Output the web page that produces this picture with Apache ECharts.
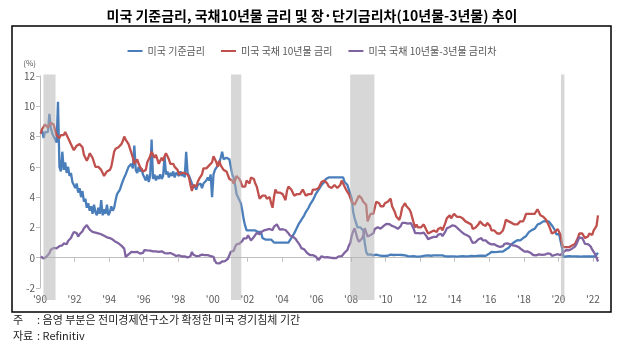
<!DOCTYPE html>
<html>
<head>
<meta charset="utf-8">
<script src="https://cdn.jsdelivr.net/npm/echarts@6/dist/echarts.min.js"></script>
<style>
  html, body { margin: 0; padding: 0; background: #fff; }
  #chart { width: 624px; height: 349px; }
</style>
</head>
<body>
<div id="chart"></div>
<script>
// Monthly series, January 1990 to April 2022 (%)
const START_YEAR = 1990;

// US policy rate (effective fed funds)
const fedFundsRate = [
  8.2, 8.4, 7.9, 8.3, 8.2, 8.3, 9.5, 8.6, 8.2, 8.0, 7.8, 7.6,        // 1990
  10.3, 6.0, 5.7, 7.0, 5.8, 6.3, 5.6, 6.0, 5.4, 5.6, 5.0, 4.8,       // 1991
  4.6, 4.9, 4.3, 4.6, 4.0, 4.4, 3.7, 3.9, 3.3, 3.6, 3.1, 3.4,        // 1992
  2.9, 3.5, 3.0, 2.8, 3.3, 2.9, 3.8, 2.8, 3.2, 2.9, 3.5, 2.8,        // 1993
  3.0, 3.4, 3.1, 3.3, 3.8, 4.2, 4.1, 4.5, 4.8, 4.7, 5.3, 5.5,        // 1994
  5.6, 6.0, 5.9, 6.2, 5.9, 7.4, 5.8, 5.6, 6.0, 5.7, 5.9, 5.5,        // 1995
  5.6, 5.1, 5.5, 5.0, 5.4, 7.8, 5.2, 5.5, 5.1, 5.4, 5.2, 5.5,        // 1996
  5.2, 5.4, 6.7, 5.5, 5.7, 5.3, 5.6, 5.4, 5.7, 5.3, 5.6, 5.5,        // 1997
  5.4, 5.7, 5.4, 5.6, 5.3, 7.0, 5.6, 5.4, 5.5, 4.9, 4.6, 4.8,        // 1998
  4.5, 4.8, 4.7, 4.9, 4.6, 4.9, 5.0, 5.1, 5.3, 5.1, 5.5, 4.0,        // 1999
  5.5, 5.8, 5.9, 6.1, 6.3, 6.6, 7.0, 6.5, 6.5, 6.6, 6.5, 6.5,        // 2000
  6.0, 5.5, 5.3, 4.8, 4.2, 4.0, 3.8, 3.6, 3.1, 2.5, 2.1, 1.8,        // 2001
  1.7, 1.8, 1.7, 1.8, 1.7, 1.8, 1.7, 1.7, 1.8, 1.7, 1.3, 1.2,        // 2002
  1.2, 1.3, 1.2, 1.3, 1.2, 1.2, 1.0, 1.0, 1.0, 1.0, 1.0, 1.0,        // 2003
  1.0, 1.0, 1.0, 1.0, 1.0, 1.0, 1.3, 1.4, 1.6, 1.8, 1.9, 2.2,        // 2004
  2.3, 2.5, 2.6, 2.8, 3.0, 3.0, 3.3, 3.5, 3.6, 3.8, 4.0, 4.2,        // 2005
  4.3, 4.5, 4.6, 4.8, 4.9, 5.0, 5.2, 5.3, 5.3, 5.3, 5.3, 5.2,        // 2006
  5.3, 5.3, 5.3, 5.3, 5.3, 5.3, 5.3, 5.0, 4.9, 4.8, 4.5, 4.2,        // 2007
  3.9, 3.0, 2.6, 2.3, 2.0, 2.0, 2.0, 2.0, 1.8, 1.0, 0.4, 0.2,        // 2008
  0.15, 0.22, 0.18, 0.15, 0.18, 0.21, 0.16, 0.16, 0.15, 0.12, 0.12, 0.12, // 2009
  0.11, 0.13, 0.16, 0.20, 0.20, 0.18, 0.18, 0.19, 0.19, 0.19, 0.19, 0.18, // 2010
  0.17, 0.16, 0.14, 0.10, 0.09, 0.09, 0.07, 0.10, 0.08, 0.07, 0.08, 0.07, // 2011
  0.08, 0.10, 0.13, 0.14, 0.16, 0.16, 0.16, 0.13, 0.14, 0.16, 0.16, 0.16, // 2012
  0.14, 0.15, 0.14, 0.15, 0.11, 0.09, 0.09, 0.08, 0.08, 0.09, 0.08, 0.09, // 2013
  0.07, 0.07, 0.08, 0.09, 0.09, 0.10, 0.09, 0.09, 0.09, 0.09, 0.09, 0.12, // 2014
  0.11, 0.11, 0.11, 0.12, 0.12, 0.13, 0.13, 0.14, 0.14, 0.12, 0.12, 0.24, // 2015
  0.34, 0.38, 0.36, 0.37, 0.37, 0.38, 0.39, 0.40, 0.40, 0.40, 0.41, 0.54, // 2016
  0.65, 0.66, 0.79, 0.90, 0.91, 1.04, 1.15, 1.16, 1.15, 1.15, 1.16, 1.30, // 2017
  1.41, 1.42, 1.51, 1.69, 1.70, 1.82, 1.91, 1.91, 1.95, 2.19, 2.20, 2.27, // 2018
  2.40, 2.40, 2.41, 2.42, 2.39, 2.38, 2.40, 2.13, 2.04, 1.83, 1.55, 1.55, // 2019
  1.55, 1.58, 0.65, 0.05, 0.05, 0.08, 0.09, 0.10, 0.09, 0.09, 0.09, 0.09, // 2020
  0.09, 0.08, 0.07, 0.07, 0.06, 0.08, 0.10, 0.09, 0.08, 0.08, 0.08, 0.08, // 2021
  0.08, 0.08, 0.20, 0.33                                                  // 2022
];

// US 10-year Treasury yield
const treasury10y = [
  8.2, 8.5, 8.6, 8.8, 8.9, 8.6, 8.5, 8.9, 9.0, 8.8, 8.4, 8.1,        // 1990
  8.1, 7.9, 8.1, 8.0, 8.1, 8.3, 8.3, 7.9, 7.7, 7.5, 7.4, 7.1,        // 1991
  7.1, 7.4, 7.5, 7.5, 7.4, 7.3, 6.8, 6.6, 6.4, 6.6, 6.9, 6.8,        // 1992
  6.6, 6.3, 6.0, 6.0, 6.0, 5.9, 5.8, 5.7, 5.4, 5.3, 5.7, 5.8,        // 1993
  5.8, 6.0, 6.5, 7.0, 7.2, 7.1, 7.3, 7.2, 7.5, 7.7, 8.0, 7.8,        // 1994
  7.8, 7.5, 7.2, 7.1, 6.6, 6.2, 6.3, 6.5, 6.2, 6.0, 5.9, 5.7,        // 1995
  5.6, 5.8, 6.3, 6.5, 6.7, 7.0, 6.9, 6.6, 6.8, 6.5, 6.2, 6.3,        // 1996
  6.6, 6.4, 6.7, 6.9, 6.7, 6.5, 6.2, 6.3, 6.2, 6.0, 5.9, 5.8,        // 1997
  5.5, 5.6, 5.6, 5.6, 5.6, 5.5, 5.5, 5.3, 4.8, 4.4, 4.8, 4.7,        // 1998
  4.7, 5.0, 5.2, 5.2, 5.5, 5.9, 5.8, 5.9, 5.9, 6.1, 6.0, 6.3,        // 1999
  6.7, 6.5, 6.3, 6.0, 6.4, 6.1, 6.0, 5.8, 5.8, 5.7, 5.7, 5.2,        // 2000
  5.2, 5.1, 4.9, 5.1, 5.4, 5.3, 5.2, 5.0, 4.7, 4.6, 4.7, 5.1,        // 2001
  5.0, 4.9, 5.3, 5.2, 5.2, 4.9, 4.7, 4.3, 3.9, 3.9, 4.1, 4.0,        // 2002
  4.1, 3.9, 3.8, 4.0, 3.6, 3.3, 4.0, 4.5, 4.3, 4.3, 4.3, 4.3,        // 2003
  4.2, 4.1, 3.8, 4.4, 4.7, 4.7, 4.5, 4.3, 4.1, 4.1, 4.2, 4.2,        // 2004
  4.2, 4.2, 4.5, 4.3, 4.1, 4.0, 4.2, 4.3, 4.2, 4.5, 4.5, 4.5,        // 2005
  4.4, 4.6, 4.7, 5.0, 5.1, 5.1, 5.1, 4.9, 4.7, 4.7, 4.6, 4.6,        // 2006
  4.8, 4.7, 4.6, 4.7, 4.8, 5.1, 5.0, 4.7, 4.5, 4.5, 4.2, 4.1,        // 2007
  3.7, 3.7, 3.5, 3.7, 3.9, 4.1, 4.0, 3.9, 3.7, 3.8, 3.5, 2.4,        // 2008
  2.5, 2.9, 2.8, 2.9, 3.3, 3.7, 3.6, 3.6, 3.4, 3.4, 3.4, 3.6,        // 2009
  3.7, 3.7, 3.7, 3.9, 3.4, 3.2, 3.0, 2.7, 2.7, 2.5, 2.8, 3.3,        // 2010
  3.4, 3.6, 3.4, 3.5, 3.2, 3.0, 3.0, 2.3, 2.0, 2.2, 2.0, 2.0,        // 2011
  2.0, 2.0, 2.2, 2.1, 1.8, 1.6, 1.5, 1.7, 1.7, 1.8, 1.7, 1.7,        // 2012
  1.9, 2.0, 2.0, 1.8, 1.9, 2.3, 2.6, 2.7, 2.8, 2.6, 2.7, 2.9,        // 2013
  2.9, 2.7, 2.7, 2.7, 2.6, 2.6, 2.5, 2.4, 2.5, 2.3, 2.3, 2.2,        // 2014
  1.9, 2.0, 2.0, 1.9, 2.2, 2.4, 2.3, 2.2, 2.2, 2.1, 2.3, 2.2,        // 2015
  2.1, 1.8, 1.9, 1.8, 1.8, 1.6, 1.5, 1.6, 1.6, 1.8, 2.1, 2.5,        // 2016
  2.4, 2.4, 2.5, 2.3, 2.3, 2.2, 2.3, 2.2, 2.2, 2.4, 2.4, 2.4,        // 2017
  2.6, 2.9, 2.8, 2.9, 3.0, 2.9, 2.9, 2.9, 3.0, 3.2, 3.1, 2.8,        // 2018
  2.7, 2.7, 2.6, 2.5, 2.4, 2.1, 2.1, 1.6, 1.7, 1.7, 1.8, 1.9,        // 2019
  1.8, 1.5, 0.9, 0.7, 0.7, 0.7, 0.6, 0.7, 0.7, 0.8, 0.9, 0.9,        // 2020
  1.1, 1.3, 1.6, 1.6, 1.6, 1.5, 1.3, 1.3, 1.4, 1.6, 1.6, 1.5,        // 2021
  1.8, 1.9, 2.1, 2.8                                                  // 2022
];

// 10-year minus 3-year Treasury yield spread
const spread10y3y = [
  0.08, -0.05, -0.05, 0.01, 0.07, 0.15, 0.30, 0.53, 0.62, 0.65, 0.65, 0.61, // 1990
  0.71, 0.77, 0.76, 0.81, 0.95, 0.89, 0.89, 1.10, 1.15, 1.30, 1.52, 1.70,   // 1991
  1.63, 1.62, 1.40, 1.55, 1.65, 1.75, 1.95, 1.95, 2.15, 2.05, 1.85, 1.75,   // 1992
  1.70, 1.75, 1.65, 1.70, 1.60, 1.65, 1.55, 1.55, 1.45, 1.40, 1.35, 1.30,   // 1993
  1.30, 1.25, 1.20, 1.15, 1.05, 1.00, 0.95, 0.90, 0.80, 0.70, 0.60, 0.05,   // 1994
  0.12, 0.22, 0.31, 0.38, 0.36, 0.37, 0.39, 0.39, 0.31, 0.27, 0.36, 0.32,   // 1995
  0.50, 0.60, 0.48, 0.45, 0.47, 0.42, 0.42, 0.43, 0.42, 0.45, 0.38, 0.39,   // 1996
  0.42, 0.39, 0.31, 0.28, 0.29, 0.25, 0.31, 0.25, 0.23, 0.19, 0.12, 0.07,   // 1997
  0.16, 0.14, 0.08, 0.06, 0.09, 0.04, 0.01, 0.00, 0.10, 0.38, 0.20, 0.09,   // 1998
  0.11, 0.10, 0.12, 0.15, 0.21, 0.20, 0.17, 0.17, 0.17, 0.17, 0.11, 0.14,   // 1999
  0.05, -0.20, -0.35, -0.40, -0.38, -0.33, -0.25, -0.34, -0.22, -0.11, -0.07, -0.02, // 2000
  0.39, 0.39, 0.46, 0.72, 0.88, 0.93, 0.93, 0.93, 1.11, 1.28, 1.31, 1.28,   // 2001
  1.48, 1.36, 1.14, 1.20, 1.36, 1.44, 1.64, 1.74, 1.55, 1.69, 1.73, 1.80,   // 2002
  1.87, 1.85, 1.83, 1.90, 1.82, 1.82, 2.05, 2.15, 2.20, 2.03, 1.85, 1.83,   // 2003
  1.88, 1.83, 1.83, 1.78, 1.62, 1.47, 1.45, 1.40, 1.30, 1.25, 1.10, 1.02,   // 2004
  0.83, 0.63, 0.59, 0.55, 0.42, 0.31, 0.27, 0.18, 0.24, 0.17, 0.11, 0.08,   // 2005
  0.07, -0.15, -0.02, 0.10, 0.14, 0.02, 0.02, 0.03, 0.03, 0.01, -0.04, -0.02, // 2006
  -0.03, -0.03, 0.05, 0.09, 0.06, 0.10, 0.18, 0.33, 0.46, 0.52, 0.80, 0.97, // 2007
  1.45, 1.75, 1.95, 1.60, 1.25, 1.05, 1.15, 1.25, 1.45, 1.95, 2.00, 1.40,   // 2008
  1.39, 1.50, 1.51, 1.61, 1.90, 1.96, 2.01, 1.94, 1.92, 1.93, 2.08, 2.21,   // 2009
  2.24, 2.29, 2.22, 2.21, 2.10, 2.03, 2.03, 1.92, 1.91, 1.97, 2.09, 2.30,   // 2010
  2.36, 2.30, 2.24, 2.25, 2.23, 2.29, 2.32, 1.92, 1.63, 1.68, 1.62, 1.59,   // 2011
  1.61, 1.59, 1.66, 1.62, 1.41, 1.23, 1.20, 1.31, 1.38, 1.38, 1.29, 1.37,   // 2012
  1.52, 1.58, 1.57, 1.42, 1.53, 1.72, 1.94, 1.95, 2.03, 1.99, 2.14, 2.21,   // 2013
  2.08, 2.02, 1.90, 1.83, 1.73, 1.70, 1.57, 1.49, 1.48, 1.42, 1.37, 1.15,   // 2014
  0.98, 0.99, 1.02, 1.07, 1.22, 1.29, 1.29, 1.14, 1.16, 1.14, 1.06, 0.96,   // 2015
  0.95, 0.88, 0.85, 0.89, 0.84, 0.78, 0.71, 0.71, 0.73, 0.77, 0.92, 1.00,   // 2016
  0.95, 0.95, 0.89, 0.86, 0.82, 0.70, 0.78, 0.73, 0.69, 0.68, 0.54, 0.44,   // 2017
  0.40, 0.43, 0.42, 0.30, 0.33, 0.21, 0.18, 0.18, 0.16, 0.21, 0.22, 0.17,   // 2018
  0.19, 0.20, 0.20, 0.22, 0.28, 0.29, 0.26, 0.12, 0.13, 0.18, 0.20, 0.23,   // 2019
  0.24, 0.17, 0.30, 0.37, 0.45, 0.51, 0.45, 0.49, 0.52, 0.60, 0.65, 0.73,   // 2020
  0.89, 1.01, 1.35, 1.40, 1.30, 1.12, 0.91, 0.86, 0.90, 0.92, 0.73, 0.53,   // 2021
  0.41, 0.24, 0.00, -0.25                                                    // 2022
];

// NBER recession periods (shaded), in fractional years
const recessions = [
  [1990.2, 1990.9],
  [2001.05, 2001.65],
  [2007.95, 2009.35],
  [2020.15, 2020.35]
];

const xTickYears = [1990, 1992, 1994, 1996, 1998, 2000, 2002, 2004, 2006,
                    2008, 2010, 2012, 2014, 2016, 2018, 2020, 2022];

const seriesNames = ['미국 기준금리', '미국 국채 10년물 금리', '미국 국채 10년물-3년물 금리차'];
const seriesColors = ['#4a7ebb', '#c0504d', '#8064a2'];

const toPairs = arr => arr.map((v, i) => [START_YEAR + (i + 0.5) / 12, v]);

const FONT = '"Noto Sans CJK KR", "Noto Sans", sans-serif';
const SHADE_TOP = 12.1;
const SHADE_BOTTOM = -2.8;

const chart = echarts.init(document.getElementById('chart'), null, { renderer: 'canvas' });

const lineSeries = [fedFundsRate, treasury10y, spread10y3y].map((arr, k) => ({
  name: seriesNames[k],
  type: 'line',
  data: toPairs(arr),
  showSymbol: false,
  symbol: 'none',
  lineStyle: { width: 2.3, color: seriesColors[k] },
  itemStyle: { color: seriesColors[k] },
  z: 2 + k,
  animation: false
}));

chart.setOption({
  animation: false,
  backgroundColor: '#fff',
  textStyle: { fontFamily: FONT },
  title: {
    text: '미국 기준금리, 국채10년물 금리 및 장·단기금리차(10년물-3년물) 추이',
    left: 'center',
    top: 4,
    textStyle: { fontSize: 14, fontWeight: 'bold', color: '#000', fontFamily: FONT }
  },
  legend: {
    data: seriesNames,
    top: 41,
    left: 'center',
    icon: 'rect',
    itemWidth: 15,
    itemHeight: 2,
    itemGap: 16,
    textStyle: { fontSize: 10, color: '#595959', fontFamily: FONT }
  },
  grid: { left: 40, right: 25, top: 76, bottom: 61, containLabel: false },
  xAxis: {
    type: 'value',
    min: 1990,
    max: 2022.35,
    axisLine: { onZero: true, lineStyle: { color: '#bfbfbf', width: 1 } },
    axisTick: { show: true, length: 4, customValues: xTickYears, lineStyle: { color: '#bfbfbf' } },
    axisLabel: {
      customValues: xTickYears,
      formatter: v => "'" + String(v).slice(2),
      fontSize: 10,
      color: '#595959',
      margin: 6,
      fontFamily: FONT
    },
    splitLine: { show: false }
  },
  yAxis: {
    type: 'value',
    min: -2,
    max: 12,
    interval: 2,
    name: '(%)',
    nameLocation: 'end',
    nameGap: 9,
    nameTextStyle: { fontSize: 8, color: '#595959', align: 'right', padding: [0, 4, 0, 0] },
    axisLine: { show: true, lineStyle: { color: '#bfbfbf', width: 1 } },
    axisTick: { show: true, length: 4, lineStyle: { color: '#bfbfbf' } },
    axisLabel: { fontSize: 10, color: '#595959', margin: 5, fontFamily: FONT },
    splitLine: { show: false }
  },
  series: [
    ...lineSeries,
    {
      name: 'recession',
      type: 'custom',
      silent: true,
      clip: false,
      z: 10,
      encode: { x: [0, 1] },
      data: recessions,
      renderItem: (params, api) => {
        const a = api.coord([api.value(0), SHADE_TOP]);
        const b = api.coord([api.value(1), SHADE_BOTTOM]);
        return {
          type: 'rect',
          shape: { x: a[0], y: a[1], width: b[0] - a[0], height: b[1] - a[1] },
          style: { fill: 'rgba(179,179,179,0.52)' }
        };
      }
    }
  ],
  graphic: [
    {
      type: 'rect',
      shape: { x: 12, y: 26, width: 599, height: 286 },
      style: { fill: 'none', stroke: '#000', lineWidth: 1.5 },
      silent: true,
      z: 100
    },
    {
      type: 'text', left: 13, top: 314,
      style: { text: '주', font: '11px ' + FONT, fill: '#222' }
    },
    {
      type: 'text', left: 37, top: 314,
      style: { text: ': 음영 부분은 전미경제연구소가 확정한 미국 경기침체 기간', font: '11px ' + FONT, fill: '#222' }
    },
    {
      type: 'text', left: 13, top: 330,
      style: { text: '자료', font: '11px ' + FONT, fill: '#222' }
    },
    {
      type: 'text', left: 37, top: 330,
      style: { text: ': Refinitiv', font: '11px ' + FONT, fill: '#222' }
    }
  ]
});
</script>
</body>
</html>
